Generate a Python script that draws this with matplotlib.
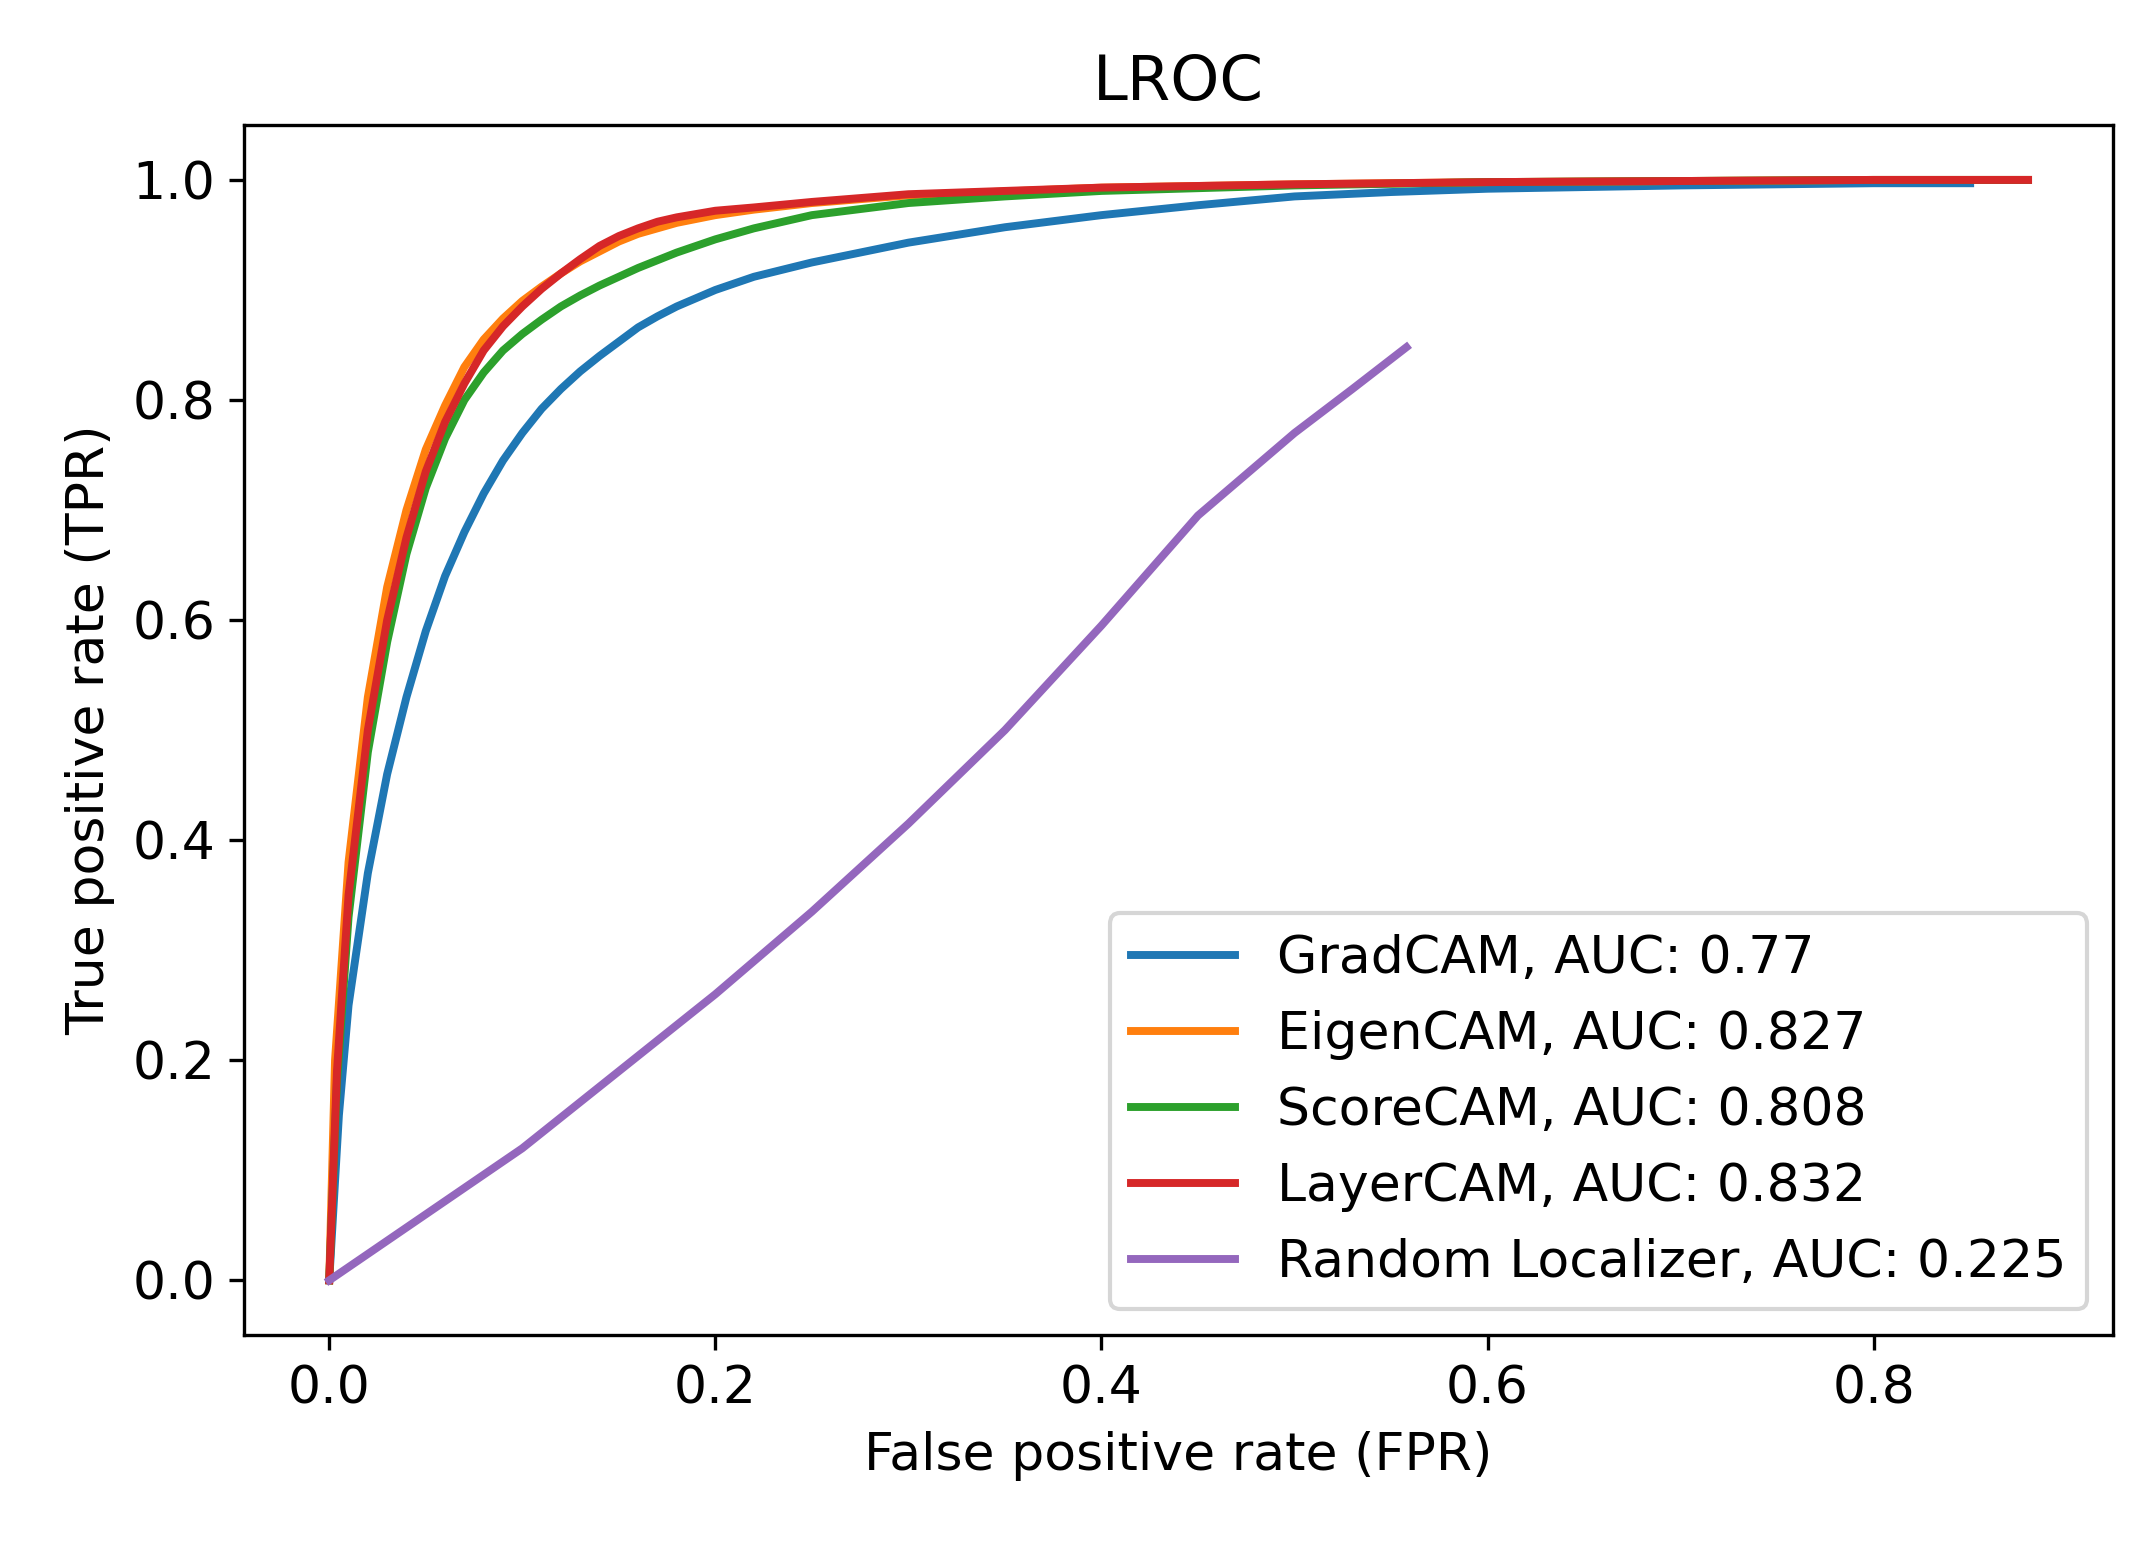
import numpy as np
import matplotlib
matplotlib.use('Agg')
import matplotlib.pyplot as plt

grad_fpr = [0, 0.005, 0.01, 0.02, 0.03, 0.04, 0.05, 0.06, 0.07, 0.08, 0.09, 0.10, 0.11, 0.12, 0.13, 0.14, 0.15, 0.16, 0.17, 0.18, 0.20, 0.22, 0.25, 0.30, 0.35, 0.40, 0.45, 0.50, 0.55, 0.60, 0.70, 0.80, 0.85]
grad_tpr = [0, 0.15, 0.25, 0.37, 0.46, 0.53, 0.59, 0.64, 0.68, 0.715, 0.745, 0.77, 0.792, 0.81, 0.826, 0.84, 0.853, 0.866, 0.876, 0.885, 0.90, 0.912, 0.925, 0.943, 0.957, 0.968, 0.977, 0.985, 0.989, 0.992, 0.995, 0.997, 0.997]

eigen_fpr = [0, 0.003, 0.01, 0.02, 0.03, 0.04, 0.05, 0.06, 0.07, 0.08, 0.09, 0.10, 0.11, 0.12, 0.13, 0.14, 0.15, 0.16, 0.18, 0.20, 0.22, 0.25, 0.30, 0.40, 0.50, 0.60, 0.70, 0.80, 0.88]
eigen_tpr = [0, 0.2, 0.38, 0.53, 0.63, 0.70, 0.755, 0.795, 0.83, 0.855, 0.874, 0.89, 0.903, 0.915, 0.926, 0.935, 0.944, 0.951, 0.961, 0.968, 0.973, 0.979, 0.986, 0.993, 0.996, 0.998, 0.999, 1.0, 1.0]

score_fpr = [0, 0.004, 0.01, 0.02, 0.03, 0.04, 0.05, 0.06, 0.07, 0.08, 0.09, 0.10, 0.11, 0.12, 0.13, 0.14, 0.16, 0.18, 0.20, 0.22, 0.25, 0.30, 0.35, 0.40, 0.50, 0.60, 0.70, 0.80, 0.88]
score_tpr = [0, 0.18, 0.33, 0.48, 0.58, 0.66, 0.72, 0.765, 0.80, 0.825, 0.845, 0.86, 0.873, 0.885, 0.895, 0.904, 0.92, 0.934, 0.946, 0.956, 0.968, 0.979, 0.985, 0.99, 0.995, 0.998, 0.999, 1.0, 1.0]

layer_fpr = [0, 0.004, 0.01, 0.02, 0.03, 0.04, 0.05, 0.06, 0.07, 0.08, 0.09, 0.10, 0.11, 0.12, 0.13, 0.14, 0.15, 0.16, 0.17, 0.18, 0.20, 0.22, 0.25, 0.30, 0.40, 0.50, 0.60, 0.70, 0.80, 0.88]
layer_tpr = [0, 0.19, 0.35, 0.50, 0.60, 0.675, 0.735, 0.78, 0.815, 0.845, 0.867, 0.885, 0.901, 0.915, 0.928, 0.94, 0.949, 0.956, 0.962, 0.966, 0.972, 0.975, 0.98, 0.987, 0.993, 0.996, 0.998, 0.999, 1.0, 1.0]

rand_fpr = [0, 0.05, 0.10, 0.15, 0.20, 0.25, 0.30, 0.35, 0.40, 0.45, 0.50, 0.53, 0.558]
rand_tpr = [0, 0.06, 0.12, 0.19, 0.26, 0.335, 0.415, 0.50, 0.595, 0.695, 0.77, 0.81, 0.848]

series = [
    (grad_fpr, grad_tpr, 'GradCAM, AUC: 0.77'),
    (eigen_fpr, eigen_tpr, 'EigenCAM, AUC: 0.827'),
    (score_fpr, score_tpr, 'ScoreCAM, AUC: 0.808'),
    (layer_fpr, layer_tpr, 'LayerCAM, AUC: 0.832'),
    (rand_fpr, rand_tpr, 'Random Localizer, AUC: 0.225'),
]

plt.rcParams['font.size'] = 12.5
fig = plt.figure(figsize=(2143/300, 1542/300), dpi=300)
ax = fig.add_axes([0.114, 0.134, 0.872, 0.785])
for fpr, tpr, lab in series:
    ax.plot(fpr, tpr, label=lab, lw=1.9)
ax.set_title('LROC')
ax.set_xlabel('False positive rate (FPR)')
ax.set_ylabel('True positive rate (TPR)')
ax.legend(loc='lower right')
fig.savefig('out.png', dpi=300)
